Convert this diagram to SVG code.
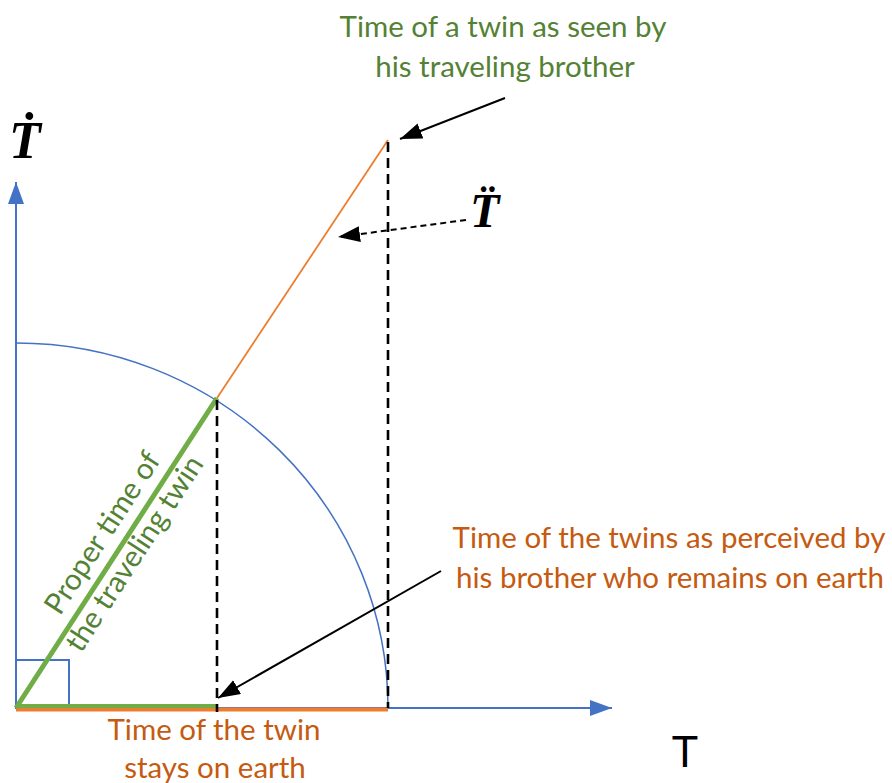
<svg xmlns="http://www.w3.org/2000/svg" width="892" height="783" viewBox="0 0 892 783">
<defs>
<style>
.lbl{font-family:Lato,"Open Sans",sans-serif;font-size:29.5px;text-anchor:middle}
.g{fill:#548235}
.o{fill:#C55A11}
.math{font-family:"Liberation Serif","DejaVu Serif",serif;font-weight:bold;font-style:italic;fill:#000}
.dash{stroke:#000;stroke-width:2.6;stroke-dasharray:10,6;fill:none}
.arr{stroke:#000;stroke-width:2;fill:none}
</style>
<marker id="bh" markerUnits="userSpaceOnUse" markerWidth="24" markerHeight="18" refX="22" refY="8" orient="auto">
<path d="M0,0 L22,8 L0,16 Z" fill="#4472C4"/>
</marker>
<marker id="kh" markerUnits="userSpaceOnUse" markerWidth="24" markerHeight="18" refX="22" refY="8" orient="auto">
<path d="M0,0 L22,8 L0,16 Z" fill="#000"/>
</marker>
</defs>
<rect width="892" height="783" fill="#fff"/>
<g id="axes">
<line x1="16" y1="708" x2="16" y2="182" stroke="#4472C4" stroke-width="2" marker-end="url(#bh)"/>
<line x1="16" y1="708" x2="612" y2="708" stroke="#4472C4" stroke-width="2" marker-end="url(#bh)"/>
</g>
<g id="arc">
<path d="M16,343 A372,365 0 0 1 388,708" fill="none" stroke="#4472C4" stroke-width="1.5"/>
</g>
<g id="right-angle">
<rect x="16" y="660" width="53" height="48" fill="none" stroke="#4472C4" stroke-width="2"/>
</g>
<g id="segments">
<line x1="217" y1="398" x2="388" y2="140" stroke="#ED7D31" stroke-width="1.8"/>
<line x1="16" y1="709.5" x2="388" y2="709.5" stroke="#ED7D31" stroke-width="4"/>
<line x1="16" y1="706" x2="217" y2="706" stroke="#70AD47" stroke-width="4"/>
<line x1="16" y1="708" x2="217" y2="398" stroke="#70AD47" stroke-width="5"/>
</g>
<g id="connectors">
<line class="dash" x1="217" y1="400" x2="217" y2="712"/>
<line class="dash" x1="388" y1="142" x2="388" y2="708"/>
<line class="arr" x1="505" y1="98" x2="400" y2="139" marker-end="url(#kh)"/>
<line class="arr" x1="466" y1="220" x2="338" y2="237" stroke-dasharray="6,4" marker-end="url(#kh)"/>
<line class="arr" x1="441" y1="571" x2="218" y2="698" marker-end="url(#kh)"/>
</g>
<g id="label-top">
<text class="lbl g" x="503" y="37">Time of a twin as seen by</text>
<text class="lbl g" x="505" y="77">his traveling brother</text>
</g>
<g id="label-right">
<text class="lbl o" x="669" y="548">Time of the twins as perceived by</text>
<text class="lbl o" x="670" y="588">his brother who remains on earth</text>
</g>
<g id="label-bottom">
<text class="lbl o" x="214" y="740">Time of the twin</text>
<text class="lbl o" x="215" y="778">stays on earth</text>
</g>
<g id="label-proper" transform="translate(16,708) rotate(-57)">
<text class="lbl g" x="194" y="-13">Proper time of</text>
<text class="lbl g" x="194" y="25">the traveling twin</text>
</g>
<g id="symbols">
<text class="math" x="9" y="158" font-size="52">Ṫ</text>
<text class="math" x="470" y="227" font-size="48">T̈</text>
<text x="685" y="767" font-family="'Liberation Sans',Arial,sans-serif" font-size="44" text-anchor="middle" fill="#000">T</text>
</g>
</svg>
